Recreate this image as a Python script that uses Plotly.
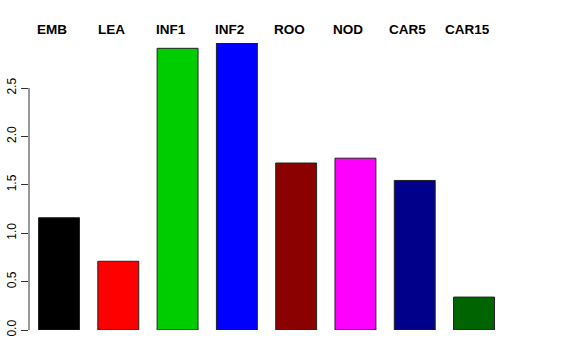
import plotly.graph_objects as go

categories = ["EMB", "LEA", "INF1", "INF2", "ROO", "NOD", "CAR5", "CAR15"]
values = [1.16, 0.71, 2.91, 2.965, 1.725, 1.775, 1.545, 0.34]
colors = ["#000000", "#FF0000", "#00CD00", "#0000FF", "#8B0000", "#FF00FF", "#00008B", "#006400"]
tick_vals = [0.0, 0.5, 1.0, 1.5, 2.0, 2.5]

x_pos = list(range(len(categories)))

fig = go.Figure()
fig.add_trace(go.Bar(
    x=x_pos, y=values, width=0.69,
    marker=dict(color=colors, line=dict(color="#222222", width=1)),
    showlegend=False, hoverinfo="skip",
))

for i, c in enumerate(categories):
    fig.add_annotation(x=i, y=1, xref="x", yref="paper", yshift=4, yanchor="bottom",
                       xshift=-7, text="<b>%s</b>" % c, showarrow=False,
                       font=dict(family="Liberation Sans, Arial, sans-serif", size=13.5, color="black"))

fig.add_shape(type="line", xref="paper", yref="y", x0=0, x1=0, y0=tick_vals[0], y1=tick_vals[-1],
              line=dict(color="#333333", width=1))

fig.update_layout(
    width=576, height=360,
    margin=dict(l=29, r=16, t=43, b=30),
    paper_bgcolor="white", plot_bgcolor="white",
    font=dict(family="Liberation Sans, Arial, sans-serif", size=12, color="black"),
    xaxis=dict(range=[-0.506, 8.45], showticklabels=False, showgrid=False, zeroline=False,
               showline=False, ticks="", automargin=False),
    yaxis=dict(range=[0, 2.965], tickvals=tick_vals, ticktext=["%.1f" % v for v in tick_vals],
               tickangle=-90, ticks="outside", ticklen=7, tickcolor="#333333",
               showgrid=False, zeroline=False, showline=False, automargin=False,
               tickfont=dict(size=12)),
)

fig.write_html("out.html", config={"displayModeBar": False, "staticPlot": True},
               post_script="document.body.style.margin='0';document.body.style.overflow='hidden';")
